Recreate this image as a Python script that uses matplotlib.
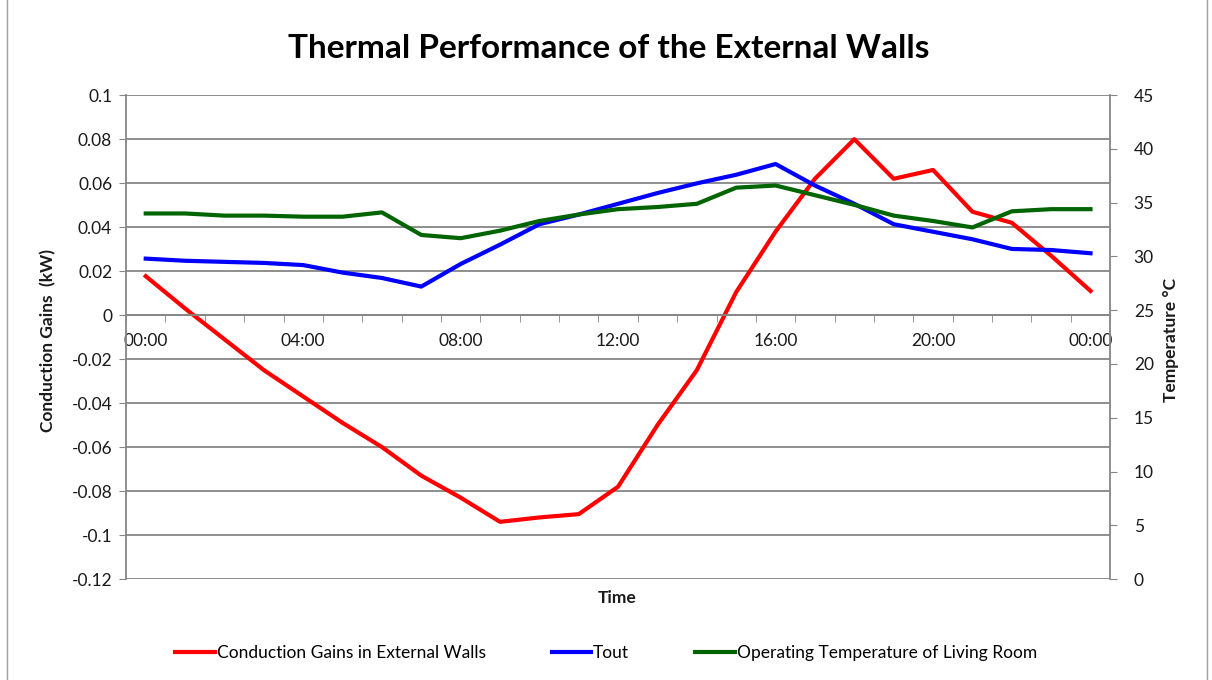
import matplotlib.pyplot as plt
import numpy as np
from matplotlib.patches import Rectangle

plt.rcParams['font.family'] = ['Lato', 'DejaVu Sans']

# hourly values, 00:00 .. 00:00 next day
hours = np.arange(25)
hour_labels = ['00:00', '04:00', '08:00', '12:00', '16:00', '20:00', '00:00']
conduction = [0.0177, 0.003, -0.011, -0.025, -0.037, -0.049, -0.060, -0.073, -0.083, -0.094,
              -0.092, -0.0905, -0.078, -0.050, -0.025, 0.0105, 0.038, 0.062, 0.080, 0.062,
              0.066, 0.047, 0.042, 0.027, 0.011]
tout = [29.8, 29.6, 29.5, 29.4, 29.2, 28.5, 28.0, 27.2, 29.3, 31.1, 33.0, 33.9, 34.9, 35.9,
        36.8, 37.6, 38.6, 36.6, 34.9, 33.0, 32.3, 31.6, 30.7, 30.6, 30.3]
operating = [34.0, 34.0, 33.8, 33.8, 33.7, 33.7, 34.1, 32.0, 31.7, 32.4, 33.3, 33.9, 34.4, 34.6,
             34.9, 36.4, 36.6, 35.7, 34.8, 33.8, 33.3, 32.7, 34.2, 34.4, 34.4]

grey = '#868686'
txt = '#1a1a1a'

fig = plt.figure(figsize=(12.12, 6.8), dpi=100)
fig.patches.append(Rectangle((0.006, -0.01), 0.99, 1.02, transform=fig.transFigure,
                             fill=False, edgecolor='#a0a0a0', lw=1))
ax = fig.add_axes([0.104, 0.1485, 0.812, 0.7115])
ax2 = ax.twinx()

l1, = ax.plot(hours, conduction, color='#ff0000', lw=3, label='Conduction Gains in External Walls')
l2, = ax2.plot(hours, tout, color='#0000ff', lw=3, label='Tout')
l3, = ax2.plot(hours, operating, color='#006400', lw=3, label='Operating Temperature of Living Room')

ax.set_xlim(-0.5, 24.5)
ax.set_ylim(-0.12, 0.1)
ax.set_yticks(np.arange(-0.12, 0.1001, 0.02))
ax.set_yticklabels(['-0.12', '-0.1', '-0.08', '-0.06', '-0.04', '-0.02', '0',
                    '0.02', '0.04', '0.06', '0.08', '0.1'])
ax.grid(axis='y', color=grey, lw=1.3)
ax.set_axisbelow(True)

ax2.set_ylim(0, 45)
ax2.set_yticks(np.arange(0, 46, 5))

# category axis crossing at zero
ax.spines['bottom'].set_position(('data', 0))
ax.set_xticks(np.arange(0, 25, 4))
ax.set_xticklabels(hour_labels)
ax.set_xticks(np.arange(-0.5, 25, 1), minor=True)
ax.tick_params(axis='x', which='major', length=0, pad=13, labelsize=12.5, labelcolor=txt)
ax.tick_params(axis='x', which='minor', length=5, color=grey, direction='out')
ax.tick_params(axis='y', length=5, color=grey, labelsize=12.5, labelcolor=txt, pad=5)
ax2.tick_params(axis='y', length=5, color=grey, labelsize=12.5, labelcolor=txt, pad=12)

for s in ['top', 'right']:
    ax.spines[s].set_visible(False)
for s in ['top', 'bottom', 'left']:
    ax2.spines[s].set_visible(False)
for s in [ax.spines['left'], ax.spines['bottom'], ax2.spines['right']]:
    s.set_color(grey)
    s.set_linewidth(1.3)

fig.text(0.502, 0.928, 'Thermal Performance of the External Walls', ha='center', va='center',
         fontsize=24, fontweight='bold', color='#000000')
fig.text(0.04, 0.5, 'Conduction Gains  (kW)', rotation=90, ha='center', va='center',
         fontsize=12.5, fontweight='bold', color=txt)
fig.text(0.966, 0.5, 'Temperature °C', rotation=90, ha='center', va='center',
         fontsize=12.5, fontweight='bold', color=txt)
fig.text(0.509, 0.12, 'Time', ha='center', va='center', fontsize=12.5, fontweight='bold', color=txt)

fig.legend(handles=[l1, l2, l3], loc='center', bbox_to_anchor=(0.5, 0.04), ncol=3,
           frameon=False, fontsize=12.5, handlelength=2.3, handletextpad=0.1, columnspacing=3.8)

fig.savefig('out.png', dpi=100)
